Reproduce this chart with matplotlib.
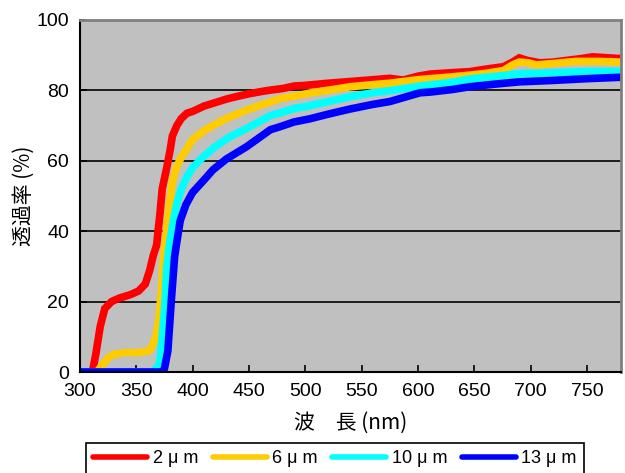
import matplotlib
matplotlib.use('Agg')
import matplotlib.pyplot as plt

plt.rcParams['font.family'] = ['Liberation Sans', 'Noto Sans CJK JP', 'DejaVu Sans']

# 2 um
wl_2 = [300, 311, 314, 318, 322, 328, 335, 345, 352, 358, 362, 365, 368, 371, 373, 375, 377, 380, 382, 386,
        390, 395, 400, 410, 420, 430, 440, 450, 460, 470, 480, 490, 500, 520, 540, 560, 575, 587, 600, 611,
        630, 646, 660, 676, 684, 690, 697, 708, 720, 735, 745, 755, 765, 780]
t_2 = [0, 0, 5, 13, 18, 20, 21, 22, 23, 25, 29, 33, 36, 45, 52, 55, 58, 63, 67, 70,
       72, 73.5, 74, 75.5, 76.5, 77.5, 78.3, 79, 79.6, 80.1, 80.5, 81.2, 81.4, 82, 82.5, 83, 83.4, 82.9, 84, 84.6,
       85, 85.3, 86, 86.7, 88, 89.2, 88.5, 87.8, 88, 88.6, 89, 89.5, 89.3, 89]

# 6 um
wl_6 = [300, 315, 320, 325, 330, 340, 350, 358, 362, 365, 368, 370, 372, 374, 376, 378, 382, 386, 390, 395,
        400, 410, 418, 430, 448, 469, 477, 490, 504, 520, 540, 560, 575, 600, 611, 630, 646, 660, 676, 684,
        690, 698, 705, 720, 740, 760, 780]
t_6 = [0, 0, 2, 4, 5, 5.5, 5.5, 5.8, 6.2, 8, 11, 15, 22, 32, 38, 44, 54, 58.5, 61, 63.5,
       66, 68.5, 70, 72, 74.4, 76.7, 77.6, 78.3, 79.2, 80, 81, 81.6, 82, 83, 83.3, 83.8, 84.3, 84.8, 85.6, 87.2,
       88, 87.8, 87.2, 87.6, 88.2, 88.2, 88]

# 10 um
wl_10 = [300, 364, 368, 371, 373, 375.5, 377, 380, 383, 386, 390, 395, 400, 409, 420, 433, 450, 469, 490, 504,
         520, 540, 560, 575, 602, 630, 646, 670, 690, 720, 750, 780]
t_10 = [0, 0, 1, 3, 10, 20, 30, 37.5, 43, 48, 52, 55.5, 58, 61, 64, 66.8, 69.5, 72.8, 74.8, 75.6,
        76.8, 78.2, 79.3, 79.9, 81.2, 82.3, 83.2, 84, 84.7, 85, 85.3, 85.4]

# 13 um
wl_13 = [300, 373, 375, 378, 381, 384, 386, 389, 394, 400, 410, 418, 430, 448, 469, 477, 490, 504, 520, 540,
         560, 575, 602, 611, 630, 646, 670, 690, 720, 750, 780]
t_13 = [0, 0, 1, 6, 20, 32.7, 37, 43, 47.5, 51, 54.5, 57.4, 60.5, 64, 68.8, 69.6, 71, 71.9, 73.2, 74.7,
        76, 76.8, 79.3, 79.5, 80.2, 81, 81.8, 82.4, 82.8, 83.3, 83.7]

labels = ['2 μ m', '6 μ m', '10 μ m', '13 μ m']
colors = ['#FF0000', '#FFCC00', '#00FFFF', '#0000FF']

fig = plt.figure(figsize=(6.25, 4.73), dpi=100)
ax = fig.add_axes([0.128, 0.2135, 0.865, 0.7445])
ax.set_facecolor('#C0C0C0')

for y in [20, 40, 60, 80]:
    ax.axhline(y, color='black', lw=1.2, zorder=1)

series = [(wl_2, t_2), (wl_6, t_6), (wl_10, t_10), (wl_13, t_13)]
for (x, y), c, lab in zip(series, colors, labels):
    ax.plot(x, y, color=c, lw=5.5, label=lab, zorder=2, solid_joinstyle='miter')

ax.set_xlim(300, 780)
ax.set_ylim(0, 100)
ax.set_xticks(range(300, 751, 50))
ax.set_yticks(range(0, 101, 20))
ax.tick_params(direction='in', length=5, width=1.2, labelsize=14, pad=8)
ax.spines['left'].set_linewidth(1.5)
ax.spines['bottom'].set_linewidth(1.5)
ax.spines['top'].set_color('#808080')
ax.spines['right'].set_color('#808080')
ax.spines['top'].set_linewidth(2)
ax.spines['right'].set_linewidth(2)

ax.set_ylabel('透過率 (%)', family=['Noto Sans CJK JP'], fontsize=15)
ax.yaxis.set_label_coords(-0.083, 0.5)
ax.set_xlabel('波\u3000長 (nm)', family=['Noto Sans CJK JP', 'Liberation Sans'], fontsize=15)
ax.xaxis.set_label_coords(0.5, -0.112)

leg = fig.legend(loc='upper left', bbox_to_anchor=(0.1376, 0.0634), ncol=4, fontsize=13,
                 frameon=True, fancybox=False, edgecolor='black', framealpha=1, borderaxespad=0,
                 handlelength=3.0, handletextpad=0.3, columnspacing=0.8, borderpad=0.4)
leg.get_frame().set_linewidth(1.2)
for h in leg.get_lines():
    h.set_linewidth(4)
    h.set_solid_capstyle('round')

fig.savefig('out.png', dpi=100)
